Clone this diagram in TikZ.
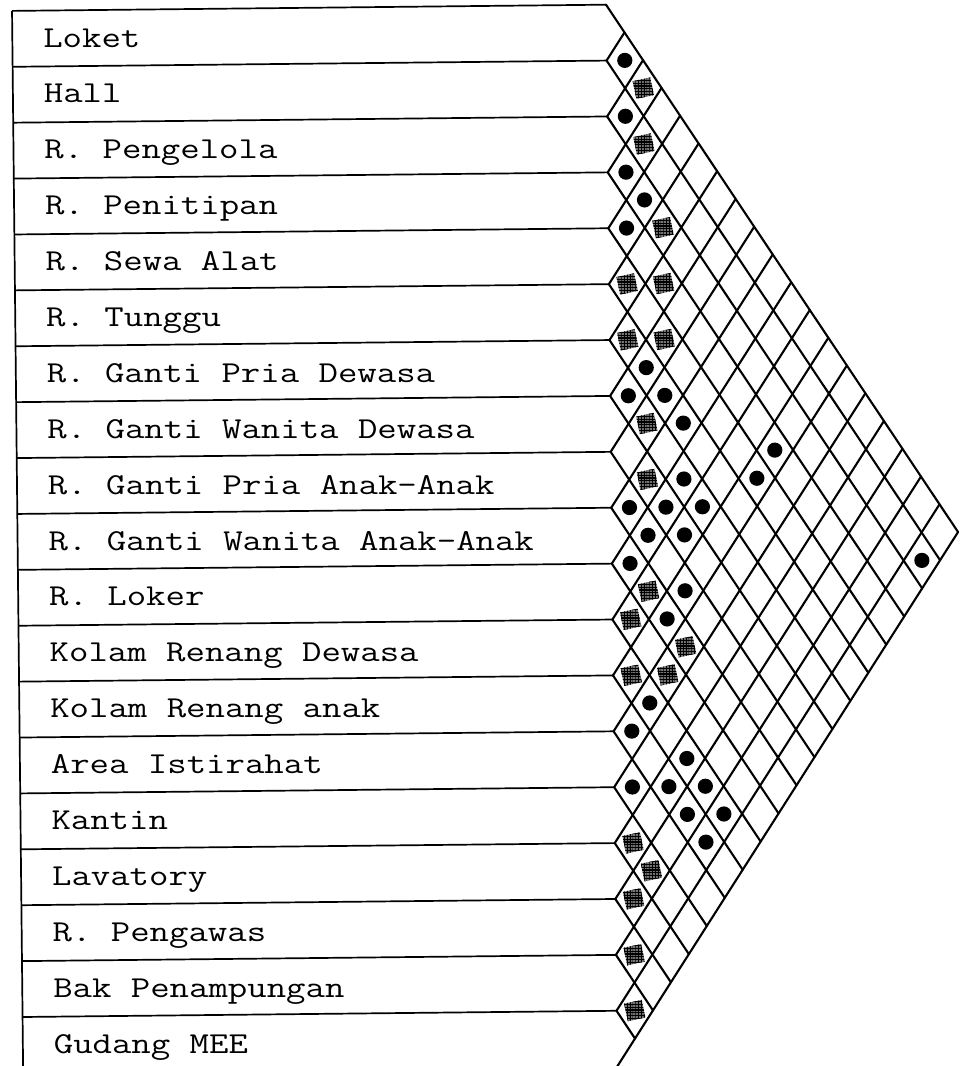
\documentclass[tikz,border=0pt]{standalone}
\usepackage{fontspec}
\usepackage{graphicx}
\usetikzlibrary{patterns.meta}
\tikzdeclarepattern{
  name=finegrid,
  type=uncolored,
  bounding box={(-0.1pt,-0.1pt) and (1.5pt,1.5pt)},
  tile size={(1.4pt,1.4pt)},
  code={
    \draw[line width=0.6pt] (0pt,0pt) -- (1.4pt,0pt) (0pt,0pt) -- (0pt,1.4pt);
  }
}
\newcommand{\widetext}[1]{\scalebox{1.24}[1]{#1}}
\tikzset{
  gridline/.style={line width=1.05pt, line cap=round, line join=round},
  rowline/.style={line width=0.85pt},
  lbl/.style={anchor=base west, inner sep=0pt,
    font=\ttfamily\fontsize{15.2}{17}\selectfont},
  dotmark/.style={circle, fill=black, inner sep=0pt, minimum size=7.6pt},
  hsq/.style={rectangle, inner sep=0pt, minimum size=9pt, rotate=12,
    preaction={fill=black!55}, pattern=finegrid}
}
\begin{document}
\begin{tikzpicture}[x=0.5pt,y=-0.5pt]
\useasboundingbox (0,0) rectangle (959,1066);
\def\L{17.5}
\def\T{6}
\def\P{55.9}
\def\XO{611.5}
\def\H{18.24}
\begin{scope}[rotate around={0.6:(480,533)}]
  % left border
  \draw[rowline] (\L,\T) -- (\L,1100);
  % row boundaries
  \foreach \k in {0,...,18}{
    \draw[rowline] (\L,{\T+\k*\P}) -- (\XO,{\T+\k*\P});
  }
  % diagonal grid
  \foreach \k in {0,...,19}{
    \draw[gridline] (\XO,{\T+\k*\P}) -- ({\XO+(19-\k)*\H},{\T+\k*\P+(19-\k)*\P/2});
    \draw[gridline] (\XO,{\T+\k*\P}) -- ({\XO+\k*\H},{\T+\k*\P-\k*\P/2});
  }
  % labels
  \foreach \i/\t in {1/Loket, 2/Hall, 3/R. Pengelola, 4/R. Penitipan,
      5/R. Sewa Alat, 6/R. Tunggu, 7/R. Ganti Pria Dewasa,
      8/R. Ganti Wanita Dewasa, 9/R. Ganti Pria Anak-Anak,
      10/R. Ganti Wanita Anak-Anak, 11/R. Loker, 12/Kolam Renang Dewasa,
      13/Kolam Renang anak, 14/Area Istirahat, 15/Kantin, 16/Lavatory,
      17/R. Pengawas, 18/Bak Penampungan, 19/Gudang MEE}{
    \node[lbl] (r\i) at (48,{\T+(\i-0.5)*\P+8.5}) {\widetext{\t}};
  }
  % strong relation (dots)
  \foreach \i/\j in {1/2,2/3,3/4,3/5,4/5,6/8,7/8,6/9,6/10,4/13,5/13,7/11,
      9/10,8/11,7/12,9/11,8/12,2/19,10/11,9/13,10/13,12/14,13/14,12/16,
      14/15,13/16,12/17,13/17,12/18,13/18}{
    \node[dotmark] (d\i-\j) at ({\XO+(\j-\i)*\H},{\T+(\i+\j-1)*\P/2}) {};
  }
  % weak relation (hatched squares)
  \foreach \i/\j in {1/3,2/4,3/6,5/6,4/7,6/7,5/8,7/9,8/10,10/12,11/12,
      10/14,12/13,11/14,15/16,15/17,16/17,17/18,18/19}{
    \node[hsq] (s\i-\j) at ({\XO+(\j-\i)*\H},{\T+(\i+\j-1)*\P/2}) {};
  }
\end{scope}
\end{tikzpicture}
\end{document}
